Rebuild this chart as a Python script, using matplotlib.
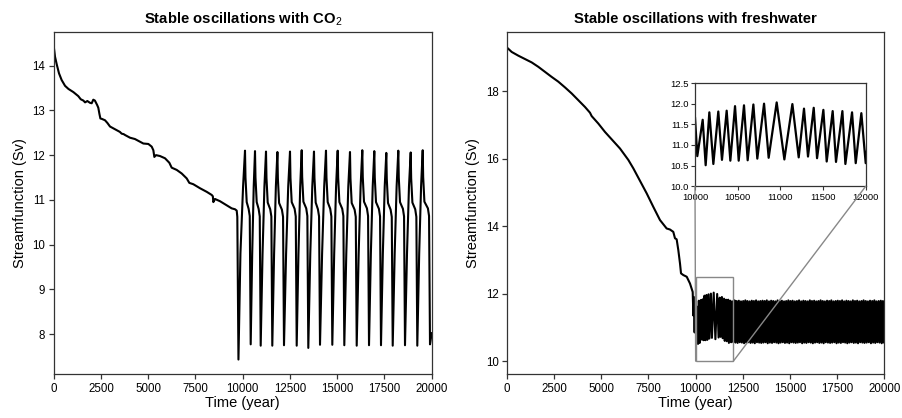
import matplotlib
matplotlib.use("Agg")
import matplotlib.pyplot as plt
from matplotlib.patches import Rectangle, ConnectionPatch

plt.rcParams['font.family'] = ['Liberation Sans', 'DejaVu Sans']
plt.rcParams['mathtext.fontset'] = 'custom'
plt.rcParams['mathtext.rm'] = 'Liberation Sans'
plt.rcParams['mathtext.bf'] = 'Liberation Sans:bold'

# ---------------- Left panel data (CO2) ----------------
pre_t = [0, 70, 160, 280, 420, 600, 780, 1040, 1300, 1430, 1570, 1660, 1780, 1920, 2010,
         2095, 2180, 2300, 2360, 2420, 2470, 2550, 2714, 2840, 2979, 3150, 3333, 3500,
         3598, 3700, 3774, 4037, 4300, 4566, 4743, 5008, 5185, 5272, 5325, 5413, 5624,
         5889, 6118, 6243, 6508, 6772, 7037, 7175, 7386, 7741, 8095, 8360, 8420, 8447,
         8534, 8799, 9153, 9418, 9593, 9683, 9715, 9775]
pre_v = [14.44, 14.20, 14.03, 13.83, 13.68, 13.55, 13.48, 13.41, 13.32, 13.25, 13.22, 13.18,
         13.21, 13.17, 13.16, 13.24, 13.22, 13.12, 13.06, 12.92, 12.82, 12.81, 12.78, 12.72,
         12.64, 12.60, 12.56, 12.52, 12.48, 12.47, 12.45, 12.39, 12.36, 12.30, 12.26, 12.25,
         12.19, 12.11, 11.96, 12.00, 11.98, 11.93, 11.83, 11.72, 11.67, 11.59, 11.48, 11.38,
         11.35, 11.26, 11.18, 11.11, 11.08, 10.95, 11.02, 10.97, 10.88, 10.81, 10.79, 10.76,
         10.62, 7.43]
first_rise_t = [9880, 10020]
first_rise_v = [9.8, 11.3]

osc_peak_t = [10122, 10651, 11233, 11836, 12503, 13122, 13772, 14407, 15026, 15677, 16328,
              16963, 17598, 18233, 18889, 19524]
osc_peak_v = [12.10, 12.09, 12.08, 12.07, 12.08, 12.11, 12.08, 12.10, 12.10, 12.07, 12.11,
              12.09, 12.05, 12.10, 12.06, 12.11]
osc_post_t = [10147, 10676, 11258, 11861, 12528, 13147, 13797, 14432, 15051, 15702, 16353,
              16988, 17623, 18258, 18914, 19549]
osc_post_v = [11.50, 11.50, 11.49, 11.48, 11.49, 11.51, 11.49, 11.50, 11.50, 11.48, 11.51,
              11.50, 11.47, 11.50, 11.48, 11.51]
osc_knee_t = [10212, 10741, 11323, 11926, 12593, 13212, 13862, 14497, 15116, 15767, 16418,
              17053, 17688, 18323, 18979, 19614]
osc_knee_v = [10.95, 10.95, 10.94, 10.93, 10.95, 10.96, 10.94, 10.95, 10.95, 10.93, 10.96,
              10.95, 10.93, 10.95, 10.94, 10.96]
osc_mid_t = [10313, 10842, 11456, 12075, 12747, 13361, 13980, 14631, 15266, 15922, 16573,
             17207, 17827, 18477, 19128, 19800]
osc_mid_v = [10.80, 10.80, 10.79, 10.78, 10.80, 10.81, 10.79, 10.80, 10.80, 10.78, 10.81,
             10.80, 10.78, 10.80, 10.79, 10.81]
osc_shoulder_t = [10373, 10902, 11516, 12135, 12807, 13421, 14040, 14691, 15326, 15982,
                  16633, 17267, 17887, 18537, 19188, 19860]
osc_shoulder_v = [10.64, 10.63, 10.63, 10.62, 10.63, 10.64, 10.63, 10.63, 10.64, 10.62,
                  10.64, 10.63, 10.62, 10.63, 10.62, 10.64]
osc_trough_t = [10423, 10952, 11566, 12185, 12857, 13471, 14090, 14741, 15376, 16032, 16683,
                17317, 17937, 18587, 19238, 19910]
osc_trough_v = [7.77, 7.74, 7.74, 7.75, 7.74, 7.69, 7.76, 7.76, 7.75, 7.74, 7.75, 7.75,
                7.74, 7.75, 7.74, 7.77]
osc_risea_t = [10503, 11050, 11661, 12296, 12950, 13576, 14201, 14841, 15481, 16136, 16781,
               17415, 18041, 18693, 19338]
osc_risea_v = [9.8, 9.8, 9.8, 9.8, 9.8, 9.8, 9.8, 9.8, 9.8, 9.8, 9.8, 9.8, 9.8, 9.8, 9.8]
osc_riseb_t = [10583, 11149, 11755, 12408, 13043, 13682, 14312, 14941, 15587, 16239, 16879,
               17514, 18144, 18798, 19438]
osc_riseb_v = [11.3, 11.3, 11.3, 11.3, 11.3, 11.3, 11.3, 11.3, 11.3, 11.3, 11.3, 11.3, 11.3,
               11.3, 11.3]
end_t = [20000]
end_v = [8.02]

# ---------------- Right panel data (freshwater) ----------------
fw_t = [0, 249, 599, 954, 1309, 1659, 2014, 2369, 2719, 3074, 3429, 3779, 4134, 4399, 4488,
        4839, 5194, 5549, 5989, 6344, 6433, 6698, 7051, 7405, 7756, 8109, 8463, 8638, 8815,
        8904, 8993, 9081, 9171, 9224, 9346, 9527, 9700, 9843, 9880, 9910, 9945, 9975]
fw_v = [19.29, 19.16, 19.05, 18.95, 18.85, 18.72, 18.57, 18.42, 18.28, 18.11, 17.93, 17.73,
        17.53, 17.36, 17.26, 17.04, 16.79, 16.57, 16.30, 16.03, 15.96, 15.71, 15.34, 14.97,
        14.57, 14.18, 13.93, 13.90, 13.83, 13.64, 13.61, 13.29, 12.89, 12.60, 12.55, 12.50,
        12.30, 12.05, 11.35, 11.90, 10.85, 11.80]
zoom_t = [10000, 10027, 10090, 10125, 10168, 10215, 10273, 10316, 10371, 10414, 10469, 10512,
          10574, 10617, 10684, 10730, 10809, 10863, 10957, 11047, 11141, 11215, 11277, 11324,
          11391, 11430, 11504, 11543, 11613, 11652, 11727, 11762, 11840, 11883, 11949, 12000]
zoom_v = [11.67, 10.73, 11.61, 10.51, 11.79, 10.54, 11.81, 10.64, 11.83, 10.62, 11.94, 10.62,
          11.96, 10.63, 11.98, 10.67, 12.00, 10.69, 12.03, 10.65, 11.99, 10.70, 11.88, 10.72,
          11.90, 10.68, 11.85, 10.60, 11.82, 10.59, 11.82, 10.54, 11.79, 10.56, 11.77, 10.56]
band_peak_t = [12062, 12177, 12291, 12404, 12519, 12633, 12746, 12861, 12975, 13088, 13203,
               13317, 13430, 13545, 13659, 13772, 13887, 14001, 14114, 14229, 14343, 14456,
               14571, 14685, 14798, 14913, 15027, 15140, 15255, 15369, 15482, 15597, 15711,
               15824, 15939, 16053, 16166, 16281, 16395, 16508, 16623, 16737, 16850, 16965,
               17079, 17192, 17307, 17421, 17534, 17649, 17763, 17876, 17991, 18105, 18218,
               18333, 18447, 18560, 18675, 18789, 18902, 19017, 19131, 19244, 19359, 19473,
               19586, 19701, 19815, 19928]
band_peak_v = [11.80, 11.78, 11.79, 11.77, 11.78, 11.80, 11.78, 11.77, 11.79, 11.78, 11.80,
               11.77, 11.78, 11.79, 11.78, 11.80, 11.77, 11.79, 11.78, 11.77, 11.80, 11.78,
               11.79, 11.77, 11.78, 11.80, 11.78, 11.79, 11.77, 11.78, 11.80, 11.77, 11.79,
               11.78, 11.77, 11.80, 11.78, 11.79, 11.77, 11.78, 11.80, 11.78, 11.77, 11.79,
               11.78, 11.80, 11.77, 11.78, 11.79, 11.78, 11.80, 11.77, 11.79, 11.78, 11.77,
               11.80, 11.78, 11.79, 11.77, 11.78, 11.80, 11.78, 11.77, 11.79, 11.78, 11.80,
               11.77, 11.78, 11.79, 11.78]
band_trough_t = [12110, 12225, 12339, 12452, 12567, 12681, 12794, 12909, 13023, 13136, 13251,
                 13365, 13478, 13593, 13707, 13820, 13935, 14049, 14162, 14277, 14391, 14504,
                 14619, 14733, 14846, 14961, 15075, 15188, 15303, 15417, 15530, 15645, 15759,
                 15872, 15987, 16101, 16214, 16329, 16443, 16556, 16671, 16785, 16898, 17013,
                 17127, 17240, 17355, 17469, 17582, 17697, 17811, 17924, 18039, 18153, 18266,
                 18381, 18495, 18608, 18723, 18837, 18950, 19065, 19179, 19292, 19407, 19521,
                 19634, 19749, 19863, 19976]
band_trough_v = [10.55, 10.54, 10.56, 10.55, 10.53, 10.55, 10.56, 10.54, 10.55, 10.53, 10.56,
                 10.55, 10.54, 10.55, 10.56, 10.53, 10.55, 10.54, 10.56, 10.55, 10.53, 10.55,
                 10.56, 10.54, 10.55, 10.53, 10.56, 10.55, 10.54, 10.55, 10.56, 10.53, 10.55,
                 10.54, 10.56, 10.55, 10.53, 10.55, 10.56, 10.54, 10.55, 10.53, 10.56, 10.55,
                 10.54, 10.55, 10.56, 10.53, 10.55, 10.54, 10.56, 10.55, 10.53, 10.55, 10.56,
                 10.54, 10.55, 10.53, 10.56, 10.55, 10.54, 10.55, 10.56, 10.53, 10.55, 10.54,
                 10.56, 10.55, 10.53, 10.55]
fw_end_t = [20000]
fw_end_v = [11.2]

x_ticks = [0, 2500, 5000, 7500, 10000, 12500, 15000, 17500, 20000]
inset_xticks = [10000, 10500, 11000, 11500, 12000]
inset_yticks = [10.0, 10.5, 11.0, 11.5, 12.0, 12.5]

# ---------------- assemble series ----------------
left_t = list(pre_t) + list(first_rise_t)
left_v = list(pre_v) + list(first_rise_v)
for k in range(len(osc_peak_t)):
    left_t += [osc_peak_t[k], osc_post_t[k], osc_knee_t[k], osc_mid_t[k],
               osc_shoulder_t[k], osc_trough_t[k]]
    left_v += [osc_peak_v[k], osc_post_v[k], osc_knee_v[k], osc_mid_v[k],
               osc_shoulder_v[k], osc_trough_v[k]]
    if k < len(osc_risea_t):
        left_t += [osc_risea_t[k], osc_riseb_t[k]]
        left_v += [osc_risea_v[k], osc_riseb_v[k]]
left_t += end_t
left_v += end_v

right_t = list(fw_t) + list(zoom_t)
right_v = list(fw_v) + list(zoom_v)
for k in range(len(band_peak_t)):
    right_t += [band_peak_t[k], band_trough_t[k]]
    right_v += [band_peak_v[k], band_trough_v[k]]
right_t += fw_end_t
right_v += fw_end_v

# ---------------- figure ----------------
W, H = 902, 418
fig = plt.figure(figsize=(W / 100, H / 100), dpi=100)
ax1 = fig.add_axes([53.7 / W, (H - 374.3) / H, 378.0 / W, 342.6 / H])
ax2 = fig.add_axes([507.0 / W, (H - 374.3) / H, 377.3 / W, 342.6 / H])

spine_col = '#333333'
for ax in (ax1, ax2):
    for s in ('top', 'right', 'bottom', 'left'):
        ax.spines[s].set_color(spine_col)
        ax.spines[s].set_linewidth(0.9)
    ax.tick_params(direction='out', length=3.5, width=0.9, color=spine_col,
                   labelsize=8.3, pad=2.5, top=False, right=False)
    ax.set_xlim(0, 20000)
    ax.set_xticks(x_ticks)
    ax.set_xlabel('Time (year)', fontsize=10.5, labelpad=1)
    ax.set_ylabel('Streamfunction (Sv)', fontsize=10.5, labelpad=4)

ax1.plot(left_t, left_v, color='black', lw=1.5)
ax1.set_ylim(7.10, 14.76)
ax1.set_yticks([8, 9, 10, 11, 12, 13, 14])
ax1.set_title('Stable oscillations with CO$_2$', fontsize=10.7, fontweight='bold', pad=6)

ax2.plot(right_t, right_v, color='black', lw=1.5)
ax2.set_ylim(9.61, 19.76)
ax2.set_yticks([10, 12, 14, 16, 18])
ax2.set_title('Stable oscillations with freshwater', fontsize=10.7, fontweight='bold', pad=6)

# inset
axins = fig.add_axes([695.0 / W, (H - 186.3) / H, 170.7 / W, 103.3 / H])
axins.plot(right_t, right_v, color='black', lw=1.6)
axins.set_xlim(inset_xticks[0], inset_xticks[-1])
axins.set_ylim(inset_yticks[0], inset_yticks[-1])
axins.set_xticks(inset_xticks)
axins.set_yticks(inset_yticks)
axins.set_yticklabels([f'{v:.1f}' for v in inset_yticks])
axins.tick_params(direction='out', length=3, width=0.8, color=spine_col, labelsize=6.8, pad=1.5)
for s in ('top', 'right', 'bottom', 'left'):
    axins.spines[s].set_color(spine_col)
    axins.spines[s].set_linewidth(0.9)

x0, x1 = axins.get_xlim()
y0, y1 = axins.get_ylim()
ax2.add_patch(Rectangle((x0, y0), x1 - x0, y1 - y0, fill=False, edgecolor='#888888', lw=1.0,
                        zorder=3))
for xc in (x0, x1):
    cp = ConnectionPatch(xyA=(xc, y0), coordsA=ax2.transData, xyB=(xc, y0),
                         coordsB=axins.transData, color='#888888', lw=1.0)
    fig.add_artist(cp)

fig.savefig('out.png', dpi=100)
